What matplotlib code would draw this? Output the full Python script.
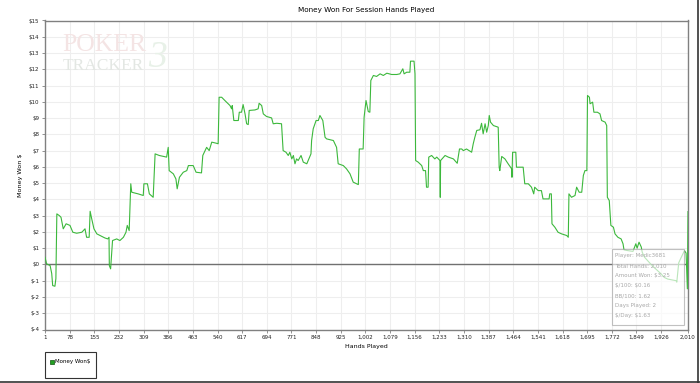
import matplotlib.pyplot as plt
import matplotlib as mpl
from matplotlib.patches import Rectangle
from matplotlib.lines import Line2D

mpl.rcParams.update({'font.family': 'DejaVu Sans', 'font.size': 4})

# --- data --- #

hands = [1, 6, 17, 22, 25, 32, 35, 38, 46, 51, 58, 67, 79, 88, 100, 116, 126, 131, 139,
         142, 147, 154, 163, 173, 188, 197, 201, 202, 206, 209, 212, 225, 235, 246, 254,
         258, 264, 269, 272, 292, 308, 310, 321, 327, 339, 345, 358, 381, 386, 389, 402,
         410, 414, 421, 433, 444, 449, 464, 473, 490, 494, 506, 514, 522, 535, 542, 545,
         553, 563, 579, 584, 586, 591, 605, 608, 615, 620, 626, 631, 636, 639, 657, 667,
         670, 678, 683, 693, 709, 714, 725, 740, 745, 754, 761, 766, 772, 777, 782, 787,
         792, 801, 808, 819, 832, 834, 839, 848, 855, 860, 869, 876, 881, 902, 912, 917,
         933, 943, 954, 964, 980, 983, 995, 998, 1004, 1011, 1016, 1019, 1027, 1037, 1048,
         1058, 1069, 1084, 1100, 1110, 1119, 1123, 1131, 1141, 1143, 1154, 1157, 1159,
         1167, 1178, 1183, 1190, 1193, 1198, 1200, 1209, 1219, 1225, 1235, 1236, 1237,
         1251, 1261, 1277, 1289, 1296, 1303, 1308, 1318, 1334, 1339, 1344, 1350, 1360,
         1365, 1370, 1376, 1381, 1386, 1389, 1393, 1402, 1417, 1420, 1422, 1428, 1438,
         1448, 1459, 1460, 1462, 1472, 1474, 1495, 1500, 1511, 1521, 1528, 1531, 1542,
         1552, 1557, 1576, 1578, 1583, 1585, 1594, 1604, 1615, 1631, 1636, 1638, 1646,
         1657, 1662, 1670, 1678, 1683, 1688, 1694, 1696, 1702, 1704, 1712, 1716, 1727,
         1735, 1740, 1751, 1756, 1758, 1764, 1769, 1777, 1782, 1791, 1801, 1807, 1810,
         1819, 1838, 1847, 1851, 1857, 1864, 1867, 1874, 1890, 1905, 1926, 1936, 1947,
         1973, 1975, 1981, 1988, 1999, 2004, 2008, 2010]

money_won = [0.44, 0.04, -0.07, -0.56, -1.30, -1.34, -0.87, 3.11, 3.00, 2.90, 2.19, 2.50,
             2.40, 1.98, 1.92, 1.98, 2.19, 1.67, 1.67, 3.27, 2.80, 2.19, 1.88, 1.78, 1.63,
             1.57, 1.67, -0.07, -0.27, 0.65, 1.47, 1.57, 1.47, 1.67, 1.98, 2.40, 2.08,
             4.96, 4.44, 4.34, 4.24, 4.96, 4.96, 4.34, 4.13, 6.80, 6.70, 6.60, 7.20, 5.77,
             5.57, 5.26, 4.65, 5.36, 5.67, 5.77, 6.08, 6.08, 5.67, 5.63, 6.70, 7.20, 7.00,
             7.52, 7.46, 7.42, 10.28, 10.28, 10.08, 9.77, 9.57, 9.77, 8.85, 8.85, 9.36,
             9.36, 9.83, 9.26, 8.65, 8.60, 9.47, 9.50, 9.57, 9.91, 9.77, 9.26, 9.10, 9.01,
             8.65, 8.68, 8.65, 7.00, 6.90, 6.70, 6.90, 6.49, 6.70, 6.19, 6.49, 6.39, 6.70,
             6.29, 6.19, 6.80, 7.62, 8.34, 8.85, 8.85, 9.16, 8.85, 7.82, 7.72, 7.62, 7.20,
             6.19, 6.08, 5.88, 5.57, 5.06, 4.91, 7.10, 7.10, 9.05, 10.08, 9.40, 9.36,
             11.31, 11.62, 11.56, 11.72, 11.62, 11.76, 11.68, 11.68, 11.72, 12.03, 11.72,
             11.82, 11.82, 12.50, 12.50, 11.72, 6.39, 6.29, 6.08, 5.77, 5.77, 4.75, 4.75,
             6.60, 6.70, 6.49, 6.60, 6.39, 4.13, 6.39, 6.70, 6.60, 6.49, 6.22, 7.10, 7.10,
             7.00, 7.10, 6.90, 7.42, 7.82, 8.24, 8.28, 8.68, 8.03, 8.65, 8.13, 8.54, 9.16,
             8.75, 8.54, 8.44, 5.98, 5.77, 6.64, 6.49, 6.19, 5.88, 5.36, 6.90, 6.90, 5.98,
             5.98, 4.96, 4.96, 4.75, 4.34, 4.75, 4.54, 4.54, 4.03, 4.03, 4.34, 4.34, 2.50,
             2.29, 1.98, 1.88, 1.78, 1.67, 4.34, 4.13, 4.24, 4.75, 4.44, 4.44, 5.47, 5.77,
             5.77, 10.39, 10.28, 9.88, 9.98, 9.36, 9.36, 9.26, 8.85, 8.75, 8.54, 4.13,
             3.93, 2.40, 2.29, 1.88, 1.67, 1.57, 1.27, 0.90, 0.86, 0.80, 1.27, 1.00, 1.37,
             1.07, 0.75, 0.45, 0.10, -0.20, -0.58, -0.80, -0.90, -1.00, -1.09, 0.10, 0.40,
             0.85, 0.70, -1.50, 3.25]

x_ticks = [1 + 77 * k for k in range(26)] + [2010]
y_ticks = list(range(-4, 16))

stats = ["Player: Medic3681", "Total Hands: 2,010", "Amount Won: $3.25",
         "$/100: $0.16", "BB/100: 1.62", "Days Played: 2", "$/Day: $1.63"]

# --- style --- #
line_color = '#3cb83c'
spine_color = '#808080'
grid_color = '#eeeeee'

fig = plt.figure(figsize=(7, 3.83), dpi=100, facecolor='white')
ax = fig.add_axes([45 / 700, 1 - 329.5 / 383, 643 / 700, 309 / 383])

# watermark
fig.text(62 / 700, 1 - 51 / 383, "POKER", family='Liberation Serif', fontsize=18.5,
         color='#f4e4e4', zorder=0)
fig.text(63 / 700, 1 - 70 / 383, "TRACKER", family='Liberation Serif', fontsize=12.5,
         color='#e3e7e3', zorder=0)
fig.text(148 / 700, 1 - 67 / 383, "3", family='Liberation Serif', style='italic',
         fontsize=27, color='#e8f1e8', zorder=0)
ax.patch.set_alpha(0)

ax.plot(hands, money_won, color=line_color, lw=0.8, zorder=3)
ax.axhline(0, color='#707070', lw=1, zorder=2)

ax.set_xlim(1, 2010)
ax.set_ylim(-4, 15)
ax.set_xticks(x_ticks)
ax.set_xticklabels([f"{t:,}" for t in x_ticks])
ax.set_yticks(y_ticks)
ax.set_yticklabels([f"${t}" for t in y_ticks])
ax.grid(True, color=grid_color, lw=0.8)
ax.set_axisbelow(True)
ax.tick_params(length=2.5, width=0.6, color=spine_color, pad=1.5, labelcolor='#222222')

for spine in ax.spines.values():
    spine.set_color(spine_color)
    spine.set_linewidth(1)

ax.set_title("Money Won For Session Hands Played", fontsize=5.2, pad=6)
ax.set_xlabel("Hands Played", fontsize=4.5, labelpad=3)
ax.set_ylabel("Money Won $", fontsize=4.6, labelpad=4)

# stats box
ax.add_patch(Rectangle((612 / 700, 1 - 325 / 383), 71.5 / 700, 76 / 383,
                       transform=fig.transFigure, facecolor='white', alpha=0.65,
                       edgecolor='#a0a0a0', lw=0.8, zorder=5))
for i, s in enumerate(stats):
    fig.text(615 / 700, 1 - (256 + i * 10) / 383, s, fontsize=4, color='#a8a8a8',
             va='center', zorder=6, parse_math=False)

# legend box
fig.patches.append(Rectangle((45 / 700, 1 - 378 / 383), 50.5 / 700, 26 / 383,
                             transform=fig.transFigure, facecolor='white',
                             edgecolor='#333333', lw=0.8))
fig.patches.append(Rectangle((49.5 / 700, 1 - 363.5 / 383), 4 / 700, 4 / 383,
                             transform=fig.transFigure, facecolor='#22a022',
                             edgecolor='#115511', lw=0.5))
fig.text(55.5 / 700, 1 - 361.5 / 383, "Money Won$", fontsize=4, va='center',
         parse_math=False)

# image frame on the right and bottom
fig.lines.append(Line2D([698 / 700, 698 / 700], [0, 1], transform=fig.transFigure,
                        color='#333333', lw=1.2))
fig.lines.append(Line2D([0, 1], [1.5 / 383, 1.5 / 383], transform=fig.transFigure,
                        color='#333333', lw=1.2))

plt.savefig('out.png', dpi=100, facecolor='white')
